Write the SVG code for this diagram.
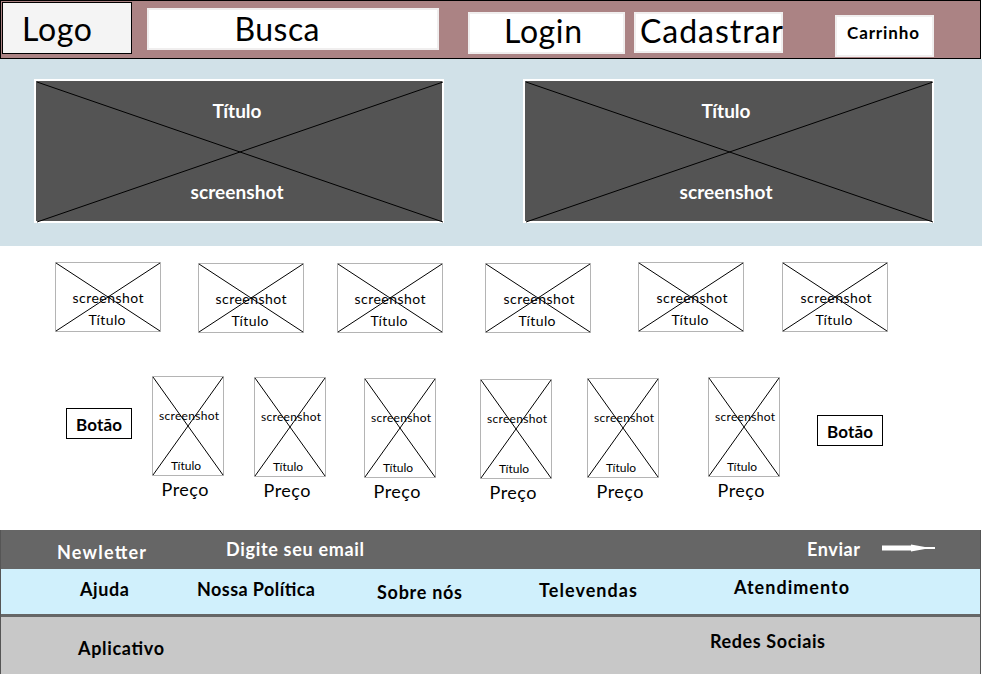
<svg xmlns="http://www.w3.org/2000/svg" width="982" height="674" viewBox="0 0 982 674">
<defs>
<style>
text{font-family:Lato,"Open Sans","Liberation Sans",sans-serif;fill:#000}
.b{font-weight:bold}
.w{fill:#fff}
.hbox{fill:#fff;stroke:#f0eeee;stroke-width:2}
.hero{fill:#545454;stroke:#fff;stroke-width:2}
.x{stroke:#000;stroke-width:1;fill:none}
.th{fill:#fff;stroke:#b4b4b4;stroke-width:1}
.btn{fill:#fff;stroke:#000;stroke-width:1}
</style>
</defs>
<rect width="982" height="674" fill="#fff"/>
<g id="header">
<rect x="0.5" y="0.5" width="980" height="58" fill="#ab8384" stroke="#000"/>
<rect x="0" y="59" width="982" height="187" fill="#d1e1e8"/>
</g>
<g id="logo"><rect x="2.5" y="2.5" width="129" height="51" fill="#f4f4f4" stroke="#000"/><text x="22" y="41" font-size="32" textLength="70">Logo</text></g>
<g id="busca"><rect class="hbox" x="148" y="9" width="290" height="40"/><text x="277" y="41" font-size="32" text-anchor="middle" textLength="85">Busca</text></g>
<g id="login"><rect class="hbox" x="469" y="13" width="155" height="40"/><text x="504" y="43" font-size="32" textLength="78">Login</text></g>
<g id="cadastrar"><rect class="hbox" x="635" y="13" width="147" height="39"/><text x="640" y="43" font-size="32" textLength="143">Cadastrar</text></g>
<g id="carrinho"><rect class="hbox" x="836" y="16" width="97" height="40"/><text class="b" x="883" y="39" font-size="17" text-anchor="middle" textLength="72">Carrinho</text></g>
<g id="hero1"><rect class="hero" x="35" y="80" width="408" height="142"/><path class="x" d="M37,82 L443,222 M37,222 L443,82"/><text class="b w" x="237" y="118" font-size="19" text-anchor="middle" textLength="49">Título</text><text class="b w" x="237" y="199" font-size="19" text-anchor="middle" textLength="93">screenshot</text></g>
<g id="hero2"><rect class="hero" x="524" y="80" width="409" height="142"/><path class="x" d="M526,82 L933,222 M526,222 L933,82"/><text class="b w" x="726" y="118" font-size="19" text-anchor="middle" textLength="49">Título</text><text class="b w" x="726" y="199" font-size="19" text-anchor="middle" textLength="93">screenshot</text></g>
<g id="t1"><rect class="th" x="55.5" y="262.5" width="105" height="69"/><path class="x" d="M56,263 L160,331 M56,331 L160,263"/><text x="108" y="303" font-size="14" text-anchor="middle" textLength="71">screenshot</text><text x="107" y="325" font-size="14" text-anchor="middle" textLength="37">Título</text></g>
<g id="t2"><rect class="th" x="198.5" y="263.5" width="105" height="69"/><path class="x" d="M199,264 L303,332 M199,332 L303,264"/><text x="251" y="304" font-size="14" text-anchor="middle" textLength="71">screenshot</text><text x="250" y="326" font-size="14" text-anchor="middle" textLength="37">Título</text></g>
<g id="t3"><rect class="th" x="337.5" y="263.5" width="105" height="69"/><path class="x" d="M338,264 L442,332 M338,332 L442,264"/><text x="390" y="304" font-size="14" text-anchor="middle" textLength="71">screenshot</text><text x="389" y="326" font-size="14" text-anchor="middle" textLength="37">Título</text></g>
<g id="t4"><rect class="th" x="485.5" y="263.5" width="105" height="69"/><path class="x" d="M486,264 L590,332 M486,332 L590,264"/><text x="539" y="304" font-size="14" text-anchor="middle" textLength="71">screenshot</text><text x="537" y="326" font-size="14" text-anchor="middle" textLength="37">Título</text></g>
<g id="t5"><rect class="th" x="638.5" y="262.5" width="105" height="69"/><path class="x" d="M639,263 L743,331 M639,331 L743,263"/><text x="692" y="303" font-size="14" text-anchor="middle" textLength="71">screenshot</text><text x="690" y="325" font-size="14" text-anchor="middle" textLength="37">Título</text></g>
<g id="t6"><rect class="th" x="782.5" y="262.5" width="105" height="69"/><path class="x" d="M783,263 L887,331 M783,331 L887,263"/><text x="836" y="303" font-size="14" text-anchor="middle" textLength="71">screenshot</text><text x="834" y="325" font-size="14" text-anchor="middle" textLength="37">Título</text></g>
<g id="btn-left"><rect class="btn" x="66.5" y="408.5" width="65" height="30"/><text class="b" x="99" y="431" font-size="17" text-anchor="middle" textLength="46">Botão</text></g>
<g id="p1"><rect class="th" x="152.5" y="376.5" width="71" height="99"/><path class="x" d="M153,377 L223,475 M153,475 L223,377"/><text x="189" y="420" font-size="12" text-anchor="middle" textLength="60">screenshot</text><text x="186" y="470" font-size="12" text-anchor="middle" textLength="30">Título</text><text x="185" y="496" font-size="18" text-anchor="middle" textLength="47">Preço</text></g>
<g id="p2"><rect class="th" x="254.5" y="377.5" width="71" height="99"/><path class="x" d="M255,378 L325,476 M255,476 L325,378"/><text x="291" y="421" font-size="12" text-anchor="middle" textLength="60">screenshot</text><text x="288" y="471" font-size="12" text-anchor="middle" textLength="30">Título</text><text x="287" y="497" font-size="18" text-anchor="middle" textLength="47">Preço</text></g>
<g id="p3"><rect class="th" x="364.5" y="378.5" width="71" height="99"/><path class="x" d="M365,379 L435,477 M365,477 L435,379"/><text x="401" y="422" font-size="12" text-anchor="middle" textLength="60">screenshot</text><text x="398" y="472" font-size="12" text-anchor="middle" textLength="30">Título</text><text x="397" y="498" font-size="18" text-anchor="middle" textLength="47">Preço</text></g>
<g id="p4"><rect class="th" x="480.5" y="379.5" width="71" height="99"/><path class="x" d="M481,380 L551,478 M481,478 L551,380"/><text x="517" y="423" font-size="12" text-anchor="middle" textLength="60">screenshot</text><text x="514" y="473" font-size="12" text-anchor="middle" textLength="30">Título</text><text x="513" y="499" font-size="18" text-anchor="middle" textLength="47">Preço</text></g>
<g id="p5"><rect class="th" x="587.5" y="378.5" width="71" height="99"/><path class="x" d="M588,379 L658,477 M588,477 L658,379"/><text x="624" y="422" font-size="12" text-anchor="middle" textLength="60">screenshot</text><text x="621" y="472" font-size="12" text-anchor="middle" textLength="30">Título</text><text x="620" y="498" font-size="18" text-anchor="middle" textLength="47">Preço</text></g>
<g id="p6"><rect class="th" x="708.5" y="377.5" width="71" height="99"/><path class="x" d="M709,378 L779,476 M709,476 L779,378"/><text x="745" y="421" font-size="12" text-anchor="middle" textLength="60">screenshot</text><text x="742" y="471" font-size="12" text-anchor="middle" textLength="30">Título</text><text x="741" y="497" font-size="18" text-anchor="middle" textLength="47">Preço</text></g>
<g id="btn-right"><rect class="btn" x="817.5" y="415.5" width="65" height="30"/><text class="b" x="850" y="438" font-size="17" text-anchor="middle" textLength="46">Botão</text></g>
<g id="newsletter">
<rect x="0" y="530" width="981" height="39" fill="#666"/>
<text class="b w" x="57" y="559" font-size="18" textLength="89">Newletter</text>
<text class="b w" x="226" y="556" font-size="18" textLength="138">Digite seu email</text>
<text class="b w" x="807" y="556" font-size="18" textLength="53">Enviar</text>
</g>
<g id="connectors"><path d="M882,545.5 H911 V544.5 L925,547 H935 V549 H925 L911,551.5 V550.5 H882 Z" fill="#fff"/></g>
<g id="links">
<rect x="0" y="569" width="981" height="45" fill="#d0f0fc"/>
<rect x="0" y="614" width="981" height="3" fill="#666"/>
<text class="b" x="80" y="596" font-size="18" textLength="49">Ajuda</text>
<text class="b" x="197" y="596" font-size="18" textLength="118">Nossa Política</text>
<text class="b" x="377" y="599" font-size="18" textLength="85">Sobre nós</text>
<text class="b" x="539" y="597" font-size="18" textLength="98">Televendas</text>
<text class="b" x="734" y="594" font-size="18" textLength="115">Atendimento</text>
</g>
<g id="bottom">
<rect x="0" y="617" width="981" height="57" fill="#c8c8c8"/>
<line x1="0.5" y1="530" x2="0.5" y2="674" stroke="#555" stroke-width="1"/>
<line x1="980.5" y1="530" x2="980.5" y2="674" stroke="#555" stroke-width="1"/>
<text class="b" x="78" y="655" font-size="18" textLength="86">Aplicativo</text>
<text class="b" x="710" y="648" font-size="18" textLength="115">Redes Sociais</text>
</g>
</svg>
